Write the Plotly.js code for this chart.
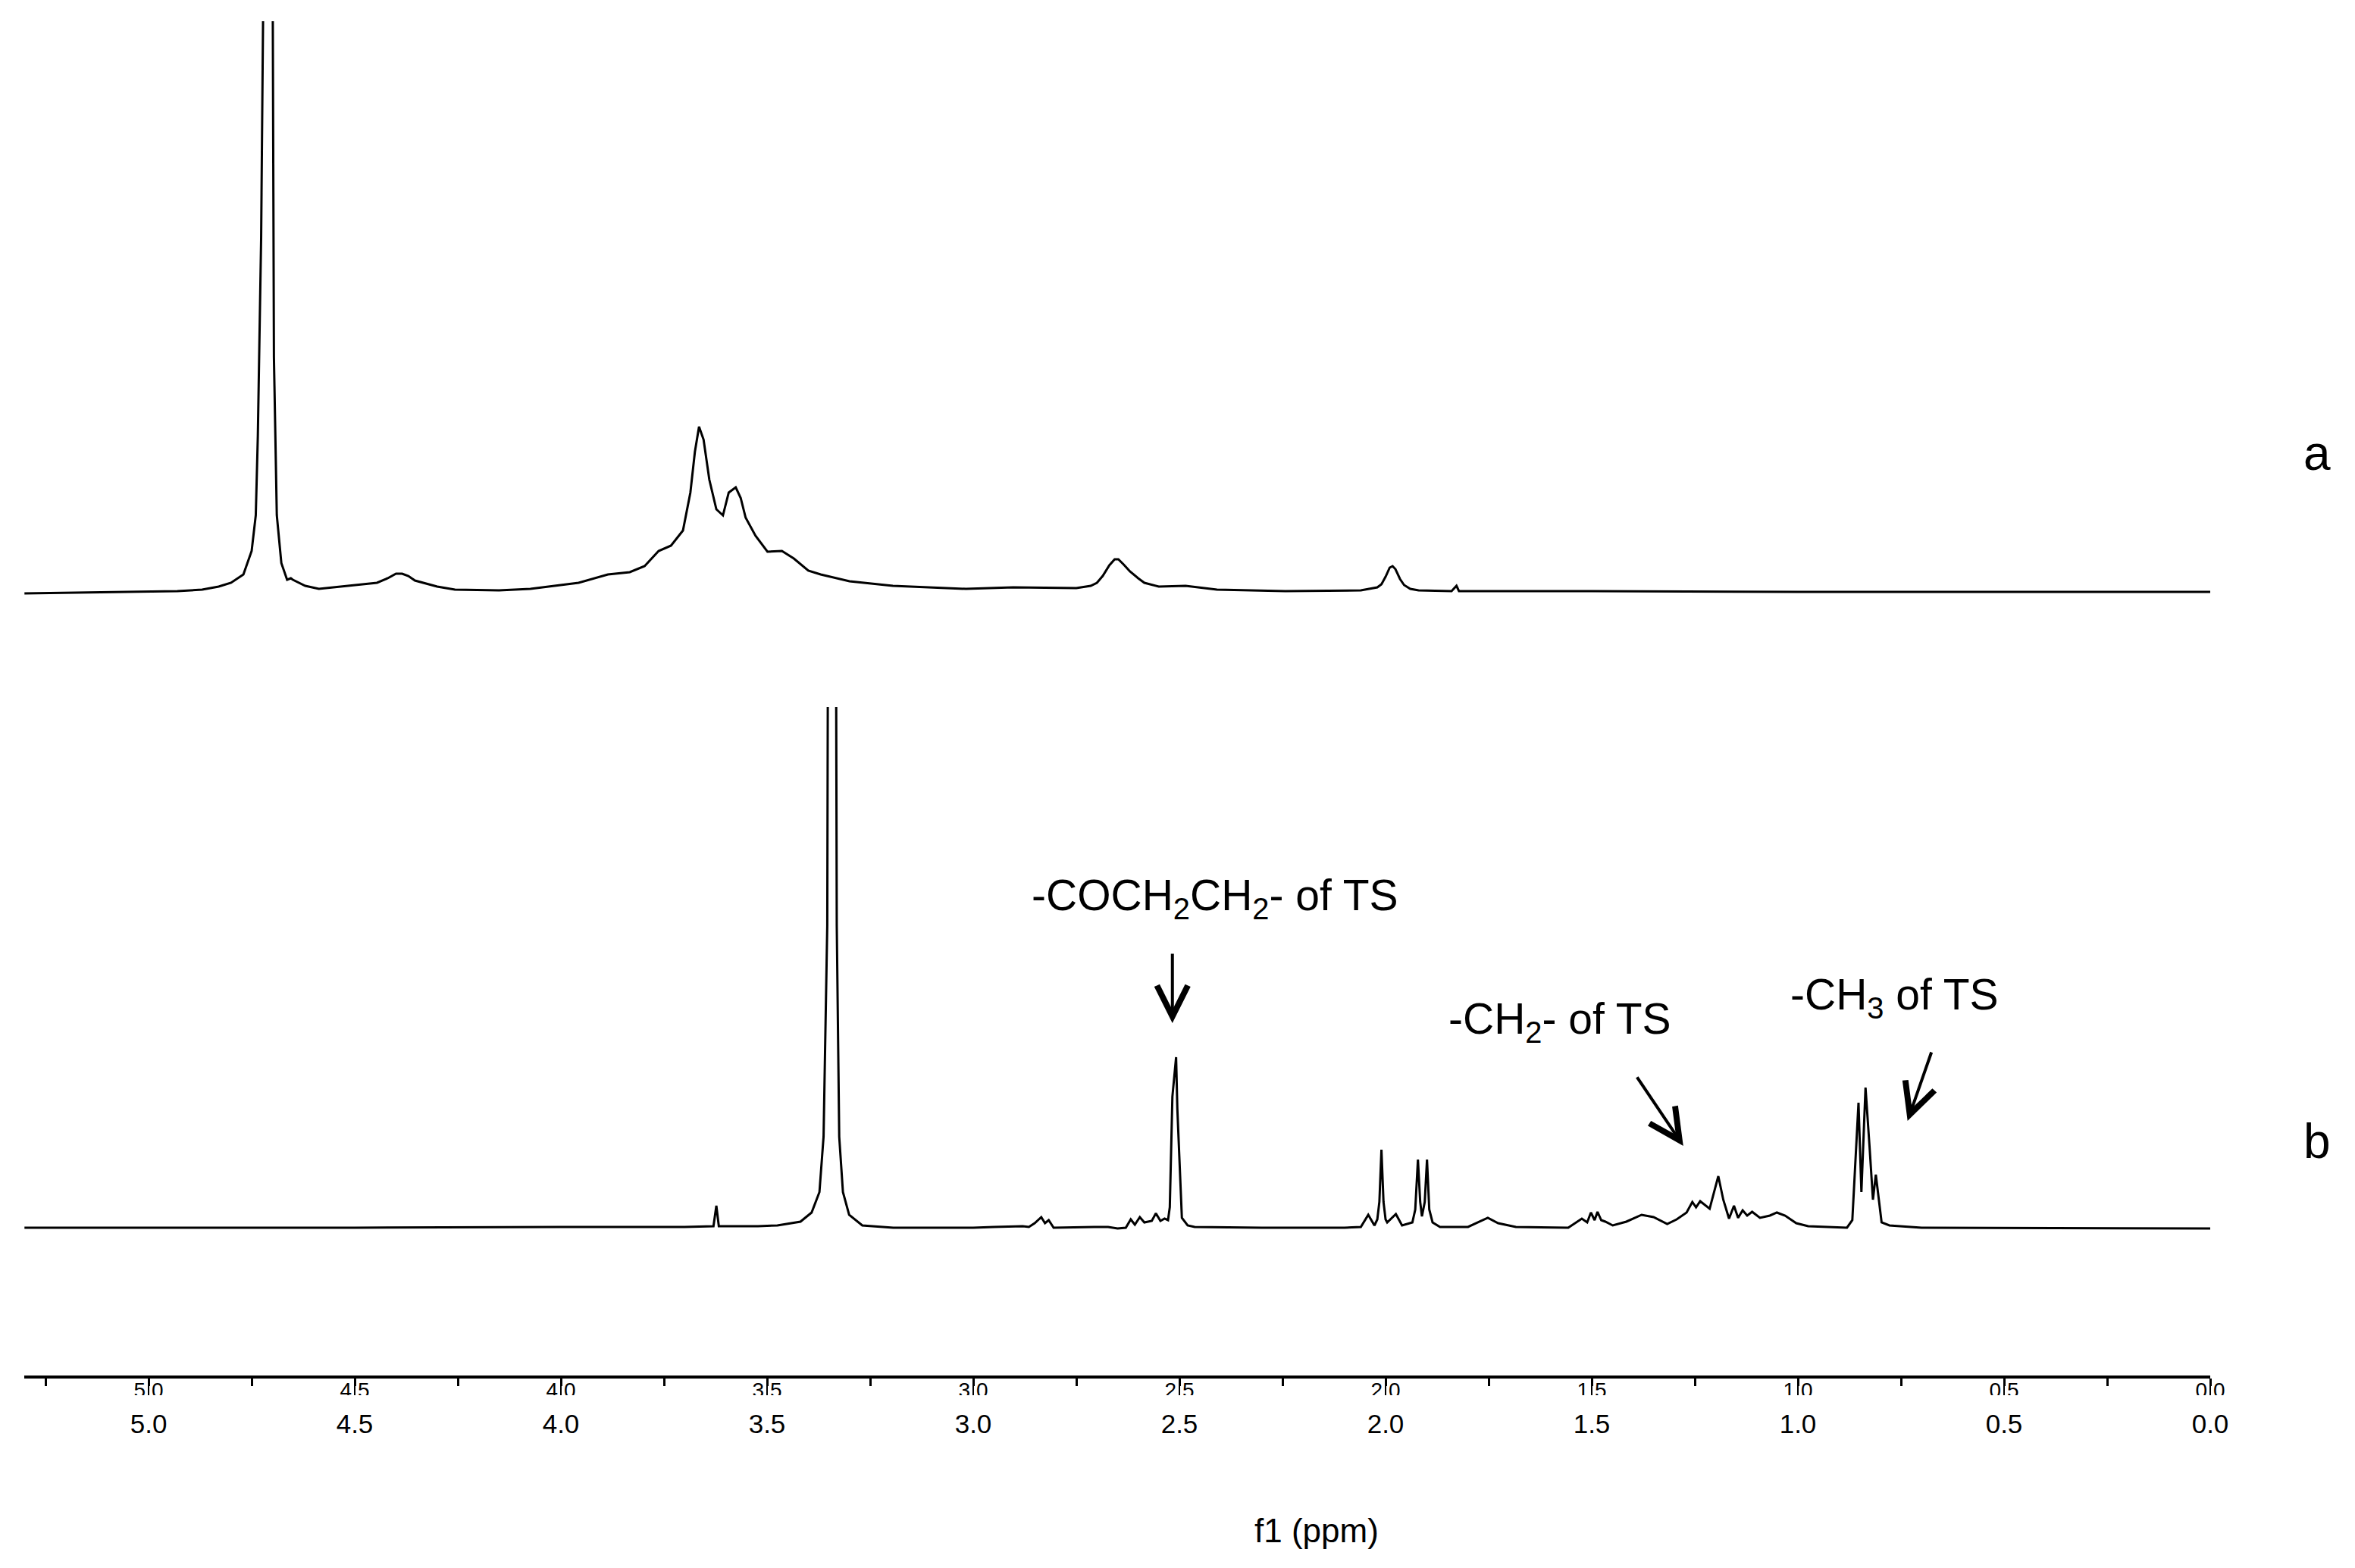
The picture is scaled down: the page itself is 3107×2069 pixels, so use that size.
<!DOCTYPE html>
<html>
<head>
<meta charset="utf-8">
<title>1H NMR spectra a and b</title>
<script src="https://cdn.plot.ly/plotly-3.0.1.min.js"></script>
<style>
    html, body { margin: 0; padding: 0; background: #fff; }
    #plot { width: 3107px; height: 2069px; }
</style>
</head>
<body>
<div id="plot"></div>
<script>
// spectrum a (top), chemical shift in ppm and intensity (arbitrary units)
var ppmA = [5.301, 5.15, 5.01, 4.93, 4.87, 4.83, 4.80, 4.77, 4.75, 4.74, 4.735, 4.727, 4.720,
    4.708, 4.699, 4.696, 4.689, 4.678, 4.664, 4.655, 4.65, 4.62, 4.587, 4.52, 4.446, 4.42,
    4.40, 4.385, 4.37, 4.354, 4.30, 4.257, 4.15, 4.074, 3.957, 3.886, 3.833, 3.797, 3.763, 3.733,
    3.704, 3.686, 3.675, 3.665, 3.654, 3.640, 3.623, 3.607, 3.593, 3.576, 3.564, 3.552, 3.528,
    3.499, 3.464, 3.435, 3.400, 3.370, 3.30, 3.195, 3.018, 2.903, 2.75, 2.715, 2.70, 2.686,
    2.67, 2.657, 2.648, 2.635, 2.62, 2.60, 2.585, 2.55, 2.485, 2.409, 2.243, 2.06, 2.02, 2.01,
    2.00, 1.99, 1.983, 1.976, 1.965, 1.955, 1.94, 1.92, 1.84, 1.828, 1.822, 1.5, 1.0, 0.5, 0.0];
var intA = [-2, -1, 0, 1, 3, 7, 12, 23, 54, 101, 206, 467, 900,
    3000, 800, 310, 101, 38, 16, 18, 16, 8, 4, 8, 12, 18,
    24, 24, 21, 15, 7, 3, 2, 4, 12, 23, 26, 34, 54, 61,
    81, 131, 185, 218, 201, 148, 109, 101, 131, 138, 124, 98, 74,
    53, 54, 44, 28, 23, 14, 8, 4, 6, 5, 8, 12, 21,
    35, 43, 43, 36, 27, 18, 12, 7, 8, 3, 1, 2, 6, 10,
    20, 32, 34, 30, 17, 9, 4, 2, 1, 8, 1, 1, 0, 0, 0];

// spectrum b (bottom)
var ppmB = [5.301, 4.5, 4.0, 3.70, 3.63, 3.623, 3.617, 3.55, 3.522, 3.475, 3.419, 3.392, 3.373,
    3.363, 3.354, 3.343, 3.331, 3.325, 3.316, 3.301, 3.269, 3.194, 3.0, 2.95, 2.903, 2.880,
    2.865, 2.851, 2.835, 2.826, 2.817, 2.805, 2.706, 2.673, 2.65, 2.63, 2.618, 2.608, 2.596,
    2.585, 2.567, 2.557, 2.546, 2.536, 2.5276, 2.5233, 2.517, 2.508, 2.505, 2.499, 2.494, 2.480,
    2.463, 2.3, 2.1, 2.06, 2.042, 2.027, 2.020, 2.015, 2.010, 2.005, 2.000, 1.996, 1.975,
    1.96, 1.935, 1.928, 1.9215, 1.916, 1.9118, 1.905, 1.8995, 1.894, 1.886, 1.868, 1.80, 1.776,
    1.752, 1.727, 1.684, 1.557, 1.537, 1.524, 1.511, 1.502, 1.493, 1.486, 1.477, 1.467, 1.449,
    1.416, 1.379, 1.350, 1.317, 1.294, 1.270, 1.256, 1.247, 1.237, 1.214, 1.193, 1.181, 1.167,
    1.155, 1.145, 1.134, 1.123, 1.111, 1.092, 1.068, 1.051, 1.031, 1.004, 0.975, 0.881, 0.868,
    0.853, 0.846, 0.836, 0.826, 0.818, 0.811, 0.797, 0.778, 0.7, 0.0];
var intB = [1, 1, 2, 2, 3, 30, 3, 3, 3, 4, 9, 21, 48,
    121, 400, 3000, 400, 121, 48, 18, 4, 1, 1, 2, 3, 3,
    2, 7, 15, 7, 11, 1, 2, 2, 0, 1, 12, 5, 15,
    8, 10, 20, 10, 13, 11, 28, 174, 226, 158, 74, 14, 4,
    2, 1, 1, 2, 18, 4, 12, 35, 104, 35, 12, 8, 19,
    4, 8, 25, 91, 35, 16, 35, 91, 25, 8, 2, 2, 8,
    14, 7, 2, 1, 8, 13, 8, 21, 11, 22, 11, 9, 4,
    9, 18, 15, 6, 12, 21, 35, 28, 36, 26, 69, 38, 13,
    30, 14, 24, 17, 22, 14, 17, 21, 17, 7, 3, 1, 11,
    166, 48, 186, 106, 38, 71, 8, 4, 1, 0];

var tickVals = [5.0, 4.5, 4.0, 3.5, 3.0, 2.5, 2.0, 1.5, 1.0, 0.5, 0.0];
var tickText = ['5.0', '4.5', '4.0', '3.5', '3.0', '2.5', '2.0', '1.5', '1.0', '0.5', '0.0'];

var labelText = ['-COCH<sub>2</sub>CH<sub>2</sub>- of TS', '-CH<sub>2</sub>- of TS', '-CH<sub>3</sub> of TS'];
var labelPpm = [2.414, 1.577, 0.765];
var labelInt = [436, 273, 305];
var arrowPpm = [2.517, 1.278, 0.734];
var arrowInt = [271, 109, 142];

function initPlot() {
    var font = 'Liberation Sans, Arial, sans-serif';

    var data = [{
        x: ppmA, y: intA, xaxis: 'x', yaxis: 'y',
        type: 'scatter', mode: 'lines', name: 'a',
        line: { color: '#000', width: 3 }
    }, {
        x: ppmB, y: intB, xaxis: 'x', yaxis: 'y2',
        type: 'scatter', mode: 'lines', name: 'b',
        line: { color: '#000', width: 3 }
    }];

    var annotations = [];
    for (var i = 0; i < labelText.length; i++) {
        annotations.push({
            x: labelPpm[i], y: labelInt[i], xref: 'x', yref: 'y2',
            text: labelText[i], showarrow: false,
            xanchor: 'center', yanchor: 'middle',
            font: { family: font, size: 57, color: '#000' }
        });
    }
    var tails = [[0, -93], [-62, -92], [32, -92]];
    for (var j = 0; j < arrowPpm.length; j++) {
        annotations.push({
            x: arrowPpm[j], y: arrowInt[j], xref: 'x', yref: 'y2',
            text: '', showarrow: true, arrowhead: 5, arrowsize: 2,
            arrowwidth: 4, arrowcolor: '#000', standoff: 0,
            ax: tails[j][0], ay: tails[j][1]
        });
    }
    annotations.push({
        x: 1.049, y: 0.681, xref: 'paper', yref: 'paper', text: 'a',
        xanchor: 'center', yanchor: 'middle', showarrow: false,
        font: { family: font, size: 64, color: '#000' }
    });
    annotations.push({
        x: 1.049, y: 0.173, xref: 'paper', yref: 'paper', text: 'b',
        xanchor: 'center', yanchor: 'middle', showarrow: false,
        font: { family: font, size: 64, color: '#000' }
    });
    annotations.push({
        x: 0.5912, y: -0.1142, xref: 'paper', yref: 'paper', text: 'f1 (ppm)',
        xanchor: 'center', yanchor: 'middle', showarrow: false,
        font: { family: font, size: 44, color: '#000' }
    });

    var layout = {
        width: 3107,
        height: 2069,
        margin: { l: 32, r: 191, t: 28, b: 254 },
        paper_bgcolor: '#fff',
        plot_bgcolor: '#fff',
        showlegend: false,
        hovermode: false,
        font: { family: font, color: '#000' },
        xaxis: {
            anchor: 'y2',
            range: [5.3015, 0],
            showgrid: false, zeroline: false,
            showline: true, linecolor: '#000', linewidth: 4,
            ticks: 'outside', ticklen: 22, tickwidth: 2, tickcolor: '#000',
            tickvals: tickVals, ticktext: tickText,
            tickfont: { size: 35, color: '#000' },
            ticklabelstandoff: 8,
            minor: { dtick: 0.25, tick0: 0, ticks: 'outside', ticklen: 10, tickwidth: 3, tickcolor: '#000' }
        },
        xaxis2: {
            overlaying: 'x',
            anchor: 'y2',
            range: [5.3015, 0],
            showgrid: false, zeroline: false, showline: false,
            ticks: '',
            tickvals: tickVals, ticktext: tickText,
            tickfont: { size: 28, color: '#000' }
        },
        yaxis: {
            domain: [0.5, 1],
            range: [-140.5, 753],
            visible: false
        },
        yaxis2: {
            domain: [0, 0.4936],
            range: [-194, 688],
            visible: false
        },
        shapes: [{
            // hides the lower half of the small tick labels
            type: 'rect', xref: 'paper', yref: 'paper', layer: 'above',
            x0: -0.02, x1: 1.02, y0: -0.0146, y1: -0.027,
            fillcolor: '#fff', line: { width: 0 }
        }],
        annotations: annotations
    };

    // a trace on xaxis2 so that the second tick label row is drawn
    data.push({
        x: [2.5], y: [-1000], xaxis: 'x2', yaxis: 'y2',
        type: 'scatter', mode: 'markers', marker: { opacity: 0 }
    });

    Plotly.newPlot('plot', data, layout, { staticPlot: true });
}

document.addEventListener('DOMContentLoaded', function() {
    initPlot();
});
</script>
</body>
</html>
